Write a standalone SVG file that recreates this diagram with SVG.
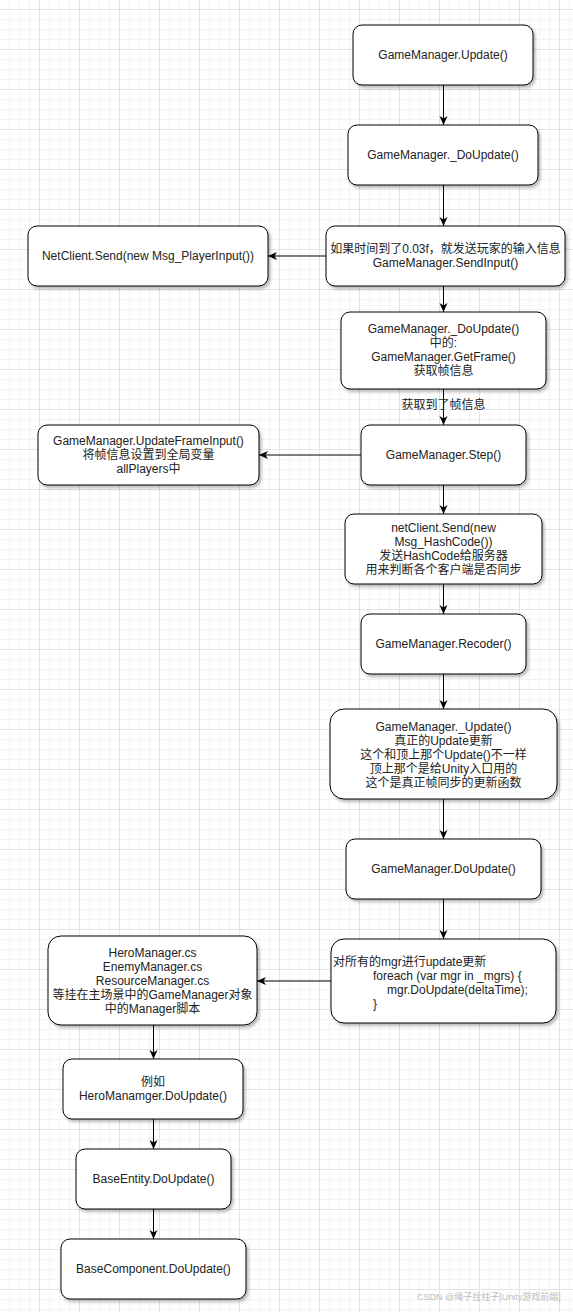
<svg xmlns="http://www.w3.org/2000/svg" width="573" height="1312" viewBox="0 0 573 1312">
  <defs>
    <pattern id="minor" patternUnits="userSpaceOnUse" width="10" height="10">
      <path d="M0,9.5 H10 M9.5,0 V10" stroke="#f3f3f3" stroke-width="1" fill="none"/>
    </pattern>
    <pattern id="major" patternUnits="userSpaceOnUse" width="40" height="40">
      <path d="M0,9.5 H40 M39.5,0 V40" stroke="#e3e3e3" stroke-width="1" fill="none"/>
    </pattern>
    <filter id="shadow" x="-10%" y="-10%" width="130%" height="140%">
      <feDropShadow dx="2" dy="2.5" stdDeviation="1.5" flood-color="#000" flood-opacity="0.28"/>
    </filter>
    <marker id="arrow" markerUnits="userSpaceOnUse" markerWidth="10" markerHeight="10" refX="9" refY="4" orient="auto">
      <path d="M0,0 L9,4 L0,8 L2.5,4 Z" fill="#000"/>
    </marker>
    <style>
      .node rect { fill: #fff; stroke: #000; stroke-width: 1; filter: url(#shadow); }
      text { font-family: "Liberation Sans", "Noto Sans CJK SC", sans-serif; font-size: 12px; fill: #222; }
      .c { text-anchor: middle; }
      .l { text-anchor: start; }
      .edge { stroke: #000; stroke-width: 1; fill: none; marker-end: url(#arrow); }
      .wm { font-size: 9px; fill: #bdbdbd; }
    </style>
  </defs>

  <rect width="573" height="1312" fill="#fff"/>
  <rect width="573" height="1312" fill="url(#minor)"/>
  <rect width="573" height="1312" fill="url(#major)"/>

  <g id="connectors">
    <path class="edge" d="M443.5,85 V125"/>
    <path class="edge" d="M443.5,185 V226"/>
    <path class="edge" d="M326,256 H268"/>
    <path class="edge" d="M443.5,286 V312"/>
    <path class="edge" d="M443.5,389 V425"/>
    <text class="c" x="443.5" y="409">获取到了帧信息</text>
    <path class="edge" d="M361,455 H259"/>
    <path class="edge" d="M443.5,485 V514"/>
    <path class="edge" d="M443.5,584 V614"/>
    <path class="edge" d="M443.5,674 V709"/>
    <path class="edge" d="M443.5,799 V839"/>
    <path class="edge" d="M443.5,899 V939"/>
    <path class="edge" d="M331,981 H257"/>
    <path class="edge" d="M153.5,1025 V1059"/>
    <path class="edge" d="M153.5,1119 V1149"/>
    <path class="edge" d="M153.5,1209 V1239"/>
  </g>

  <g id="n-update" class="node">
    <rect x="353" y="25" width="180" height="60" rx="9"/>
    <text class="c" x="443" y="59">GameManager.Update()</text>
  </g>
  <g id="n-doupdate1" class="node">
    <rect x="348" y="125" width="190" height="60" rx="9"/>
    <text class="c" x="443" y="159">GameManager._DoUpdate()</text>
  </g>
  <g id="n-sendinput" class="node">
    <rect x="326" y="226" width="239" height="60" rx="9"/>
    <text class="c"><tspan x="445.5" y="252.5">如果时间到了0.03f，就发送玩家的输入信息</tspan><tspan x="445.5" y="266.5">GameManager.SendInput()</tspan></text>
  </g>
  <g id="n-netclient" class="node">
    <rect x="28" y="226" width="240" height="60" rx="9"/>
    <text class="c" x="148" y="260">NetClient.Send(new Msg_PlayerInput())</text>
  </g>
  <g id="n-getframe" class="node">
    <rect x="341" y="312" width="205" height="77" rx="9"/>
    <text class="c"><tspan x="443.5" y="333">GameManager._DoUpdate()</tspan><tspan x="443.5" y="347">中的:</tspan><tspan x="443.5" y="361">GameManager.GetFrame()</tspan><tspan x="443.5" y="375">获取帧信息</tspan></text>
  </g>
  <g id="n-step" class="node">
    <rect x="361" y="425" width="165" height="60" rx="9"/>
    <text class="c" x="443.5" y="459">GameManager.Step()</text>
  </g>
  <g id="n-frameinput" class="node">
    <rect x="38" y="425" width="221" height="60" rx="9"/>
    <text class="c"><tspan x="148.5" y="445">GameManager.UpdateFrameInput()</tspan><tspan x="148.5" y="459">将帧信息设置到全局变量</tspan><tspan x="148.5" y="473">allPlayers中</tspan></text>
  </g>
  <g id="n-hashcode" class="node">
    <rect x="345" y="514" width="197" height="70" rx="9"/>
    <text class="c"><tspan x="443.5" y="532">netClient.Send(new</tspan><tspan x="443.5" y="546">Msg_HashCode())</tspan><tspan x="443.5" y="560">发送HashCode给服务器</tspan><tspan x="443.5" y="574">用来判断各个客户端是否同步</tspan></text>
  </g>
  <g id="n-recoder" class="node">
    <rect x="361" y="614" width="165" height="60" rx="9"/>
    <text class="c" x="443.5" y="648">GameManager.Recoder()</text>
  </g>
  <g id="n-update2" class="node">
    <rect x="330" y="709" width="227" height="90" rx="14"/>
    <text class="c"><tspan x="443.5" y="731">GameManager._Update()</tspan><tspan x="443.5" y="745">真正的Update更新</tspan><tspan x="443.5" y="759">这个和顶上那个Update()不一样</tspan><tspan x="443.5" y="773">顶上那个是给Unity入口用的</tspan><tspan x="443.5" y="787">这个是真正帧同步的更新函数</tspan></text>
  </g>
  <g id="n-doupdate2" class="node">
    <rect x="346" y="839" width="195" height="60" rx="9"/>
    <text class="c" x="443.5" y="873">GameManager.DoUpdate()</text>
  </g>
  <g id="n-mgrs" class="node">
    <rect x="331" y="939" width="225" height="84" rx="13"/>
    <text class="l"><tspan x="333" y="966">对所有的mgr进行update更新</tspan><tspan x="373" y="980">foreach (var mgr in _mgrs) {</tspan><tspan x="387" y="994">mgr.DoUpdate(deltaTime);</tspan><tspan x="373" y="1008">}</tspan></text>
  </g>
  <g id="n-managers" class="node">
    <rect x="48" y="936" width="209" height="89" rx="13"/>
    <text class="c"><tspan x="152.5" y="956.5">HeroManager.cs</tspan><tspan x="152.5" y="970.5">EnemyManager.cs</tspan><tspan x="152.5" y="984.5">ResourceManager.cs</tspan><tspan x="152.5" y="998.5">等挂在主场景中的GameManager对象</tspan><tspan x="152.5" y="1012.5">中的Manager脚本</tspan></text>
  </g>
  <g id="n-hero" class="node">
    <rect x="63" y="1059" width="180" height="60" rx="9"/>
    <text class="c"><tspan x="153" y="1086">例如</tspan><tspan x="153" y="1100">HeroManamger.DoUpdate()</tspan></text>
  </g>
  <g id="n-entity" class="node">
    <rect x="76" y="1149" width="155" height="60" rx="9"/>
    <text class="c" x="153.5" y="1183">BaseEntity.DoUpdate()</text>
  </g>
  <g id="n-component" class="node">
    <rect x="61" y="1239" width="185" height="60" rx="9"/>
    <text class="c" x="153.5" y="1273">BaseComponent.DoUpdate()</text>
  </g>

  <text class="wm l" x="417" y="1300">CSDN @绳子拴柱子[Unity游戏前端]</text>
</svg>
